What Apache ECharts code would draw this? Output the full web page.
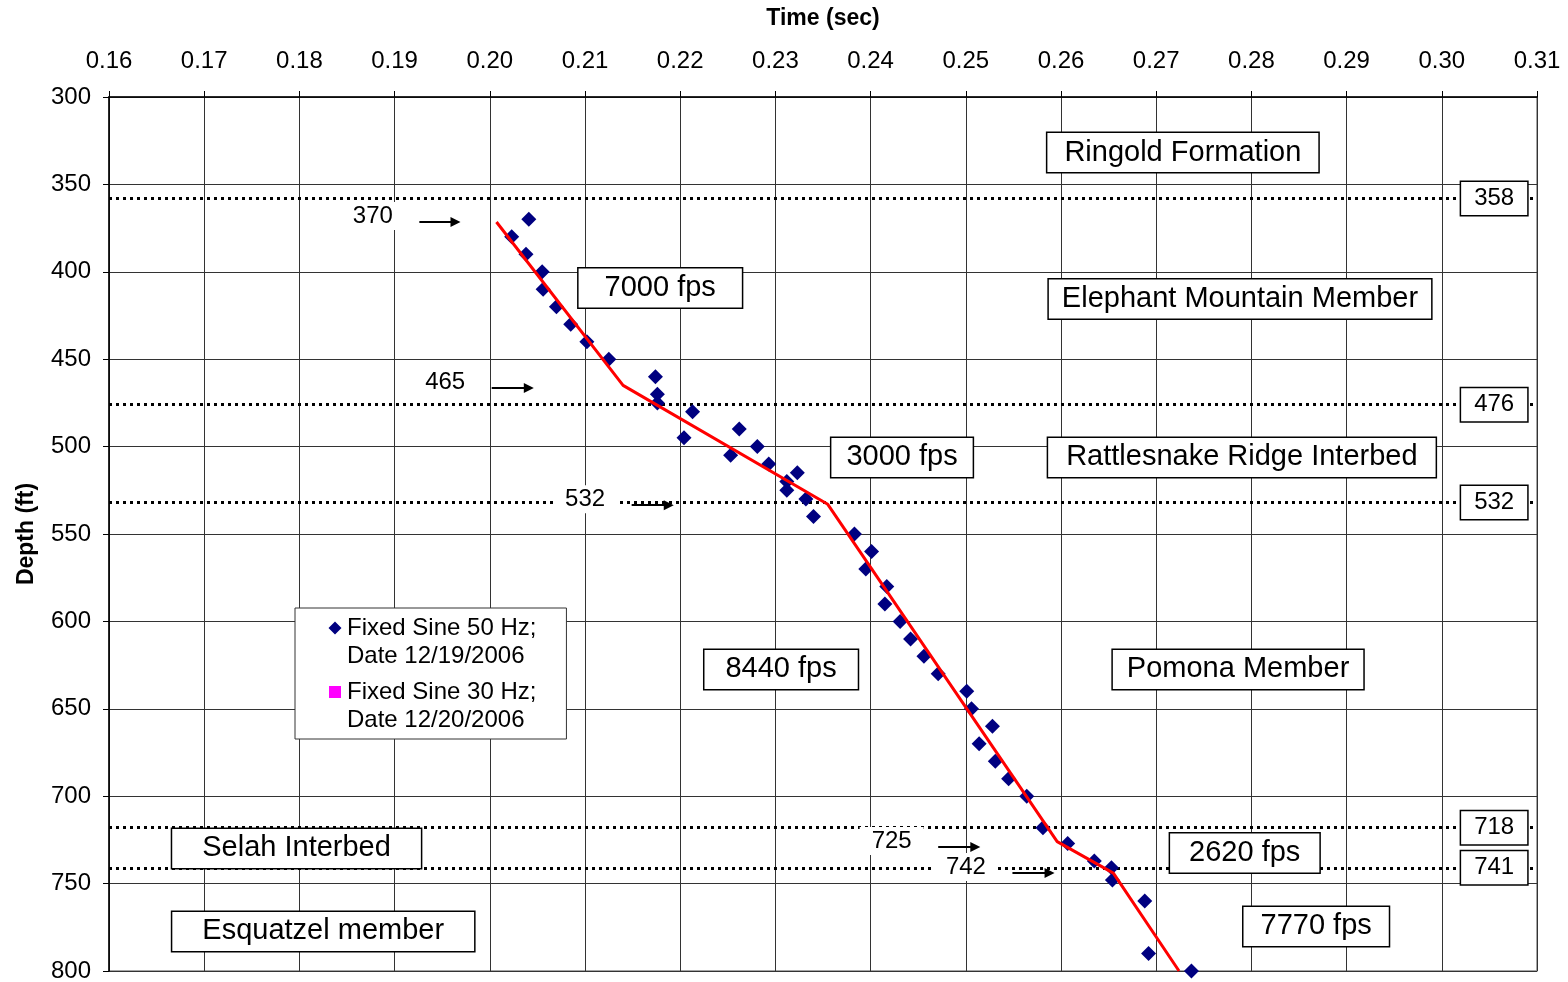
<!DOCTYPE html>
<html>
<head>
<meta charset="utf-8">
<title>Time vs Depth</title>
<script src="https://cdn.jsdelivr.net/npm/echarts@6/dist/echarts.min.js"></script>
<style>
  html, body { margin: 0; padding: 0; background: #fff; }
  #chart { width: 1568px; height: 982px; }
</style>
</head>
<body>
<div id="chart"></div>
<script>
// measured first-arrival times (sec) against depth (ft)
var timeSec = [0.2041, 0.2023, 0.2038, 0.2055, 0.2056, 0.2070, 0.2085, 0.2102, 0.2125,
  0.2174, 0.2176, 0.2176, 0.2213, 0.2262, 0.2204, 0.2281, 0.2253, 0.2293, 0.2323, 0.2312,
  0.2312, 0.2332, 0.2340, 0.2383, 0.2401, 0.2395, 0.2417, 0.2415, 0.2431, 0.2442, 0.2456,
  0.2471, 0.2501, 0.2506, 0.2528, 0.2514, 0.2531, 0.2545, 0.2564, 0.2581, 0.2607, 0.2635,
  0.2653, 0.2654, 0.2688, 0.2692, 0.2737];
var depthFt = [370, 380, 390, 400, 410, 420, 430, 440, 450,
  460, 470, 475, 480, 490, 495, 500, 505, 510, 515, 520,
  525, 530, 540, 550, 560, 570, 580, 590, 600, 610, 620,
  630, 640, 650, 660, 670, 680, 690, 700, 718, 727, 737,
  741, 748, 760, 790, 800];

// interval velocity fit (red line)
var fitTime = [0.2007, 0.2140, 0.2355, 0.2596, 0.2655, 0.2724];
var fitDepth = [371.5, 465, 533, 726, 744, 800];

// formation boundaries (dotted lines)
var boundaryDepth = [358, 476, 532, 718, 741];

// unit names and velocities
var unitText = ['Ringold Formation', 'Elephant Mountain Member', '7000 fps', '3000 fps',
  'Rattlesnake Ridge Interbed', '8440 fps', 'Pomona Member', 'Selah Interbed',
  'Esquatzel member', '2620 fps', '7770 fps'];
var unitTime = [0.2728, 0.2788, 0.2179, 0.2433, 0.2790, 0.2306, 0.2786, 0.1797, 0.1825, 0.2793, 0.2868];
var unitDepth = [331.8, 415.6, 409.3, 506.2, 506.2, 627.5, 627.5, 729.9, 777.4, 732.5, 774.5];

// break-point picks with arrows
var pickText = ['370', '465', '532', '725', '742'];
var pickDepth = [371.5, 466.5, 533.5, 729, 744];
var pickFrom = [0.1926, 0.2002, 0.2149, 0.2471, 0.2549];
var pickTo = [0.1964, 0.2041, 0.2188, 0.2510, 0.2588];

// text box side padding (layout only)
var unitPadX = [17, 13, 26, 15, 18, 21, 14, 30, 30, 19, 17];

var name50 = 'Fixed Sine 50 Hz; Date 12/19/2006';
var name30 = 'Fixed Sine 30 Hz; Date 12/20/2006';
var font = '"Liberation Sans", Arial, sans-serif';
var boxTime = 0.3055;

var points = timeSec.map(function (t, i) { return [t, depthFt[i]]; });
var fit = fitTime.map(function (t, i) { return [t, fitDepth[i]]; });

var chart = echarts.init(document.getElementById('chart'));

chart.setOption({
  animation: false,
  backgroundColor: '#fff',
  textStyle: { fontFamily: font, color: '#000' },
  grid: {
    left: 109, top: 97, width: 1428, height: 874,
    containLabel: false, outerBoundsMode: 'none',
    show: true, borderColor: '#888', borderWidth: 1.5, backgroundColor: '#fff'
  },
  legend: {
    left: 295, top: 608,
    orient: 'vertical',
    selectedMode: false,
    backgroundColor: '#fff',
    borderColor: '#333', borderWidth: 1,
    padding: [6, 30, 5, 33],
    itemGap: 8,
    itemWidth: 14, itemHeight: 56,
    formatter: function (n) { return n.replace('; ', ';\n'); },
    textStyle: { fontSize: 24, lineHeight: 28, color: '#000', fontFamily: font },
    data: [
      { name: name50, icon: 'path://M0,0L14,0Z M7,7.5L13.5,14L7,20.5L0.5,14Z M0,56L14,56Z' },
      { name: name30, icon: 'path://M0,0L14,0Z M1,8L13,8L13,20L1,20Z M0,56L14,56Z' }
    ]
  },
  xAxis: {
    type: 'value', position: 'top',
    min: 0.16, max: 0.31, interval: 0.01,
    name: 'Time (sec)', nameLocation: 'middle', nameGap: 67,
    nameTextStyle: { fontSize: 23, fontWeight: 'bold', color: '#000' },
    axisLine: { show: true, lineStyle: { color: '#000', width: 1.5 } },
    axisTick: { show: true, inside: false, length: 6, lineStyle: { color: '#000' } },
    axisLabel: { fontSize: 24, color: '#000', margin: 24,
      formatter: function (v) { return v.toFixed(2); } },
    splitLine: { show: true, lineStyle: { color: '#333', width: 1 } }
  },
  yAxis: {
    type: 'value', inverse: true,
    min: 300, max: 800, interval: 50,
    name: 'Depth (ft)', nameLocation: 'middle', nameGap: 71, nameRotate: 90,
    nameTextStyle: { fontSize: 23, fontWeight: 'bold', color: '#000' },
    axisLine: { show: true, lineStyle: { color: '#000', width: 1.5 } },
    axisTick: { show: true, inside: false, length: 6, lineStyle: { color: '#000' } },
    axisLabel: { fontSize: 24, color: '#000', margin: 18 },
    splitLine: { show: true, lineStyle: { color: '#333', width: 1 } }
  },
  series: [
    {
      // formation boundaries
      name: 'boundaries', type: 'line', data: [], z: 2, silent: true,
      markLine: {
        z: 2, silent: true, symbol: 'none',
        label: { show: false },
        lineStyle: { color: '#000', width: 3, type: [3, 4], opacity: 1 },
        data: boundaryDepth.map(function (d) { return { yAxis: d }; })
      }
    },
    {
      name: name50, type: 'scatter', z: 3,
      symbol: 'diamond', symbolSize: 15,
      itemStyle: { color: '#000080', opacity: 1 },
      data: points
    },
    {
      name: name30, type: 'scatter', z: 3,
      symbol: 'rect', symbolSize: 12,
      itemStyle: { color: '#ff00ff', opacity: 1 },
      data: []
    },
    {
      name: 'fit', type: 'line', z: 4, silent: true,
      symbol: 'none',
      lineStyle: { color: '#ff0000', width: 3 },
      data: fit
    },
    {
      // pick arrows and their labels
      name: 'picks', type: 'scatter', z: 6, silent: true,
      symbolSize: 1, itemStyle: { color: 'rgba(0,0,0,0)', opacity: 1 },
      label: {
        show: true, position: 'left', distance: 14, offset: [0, -6],
        formatter: '{b}', fontSize: 24, color: '#000', fontFamily: font,
        backgroundColor: '#fff', padding: [2, 12, 2, 12]
      },
      data: pickText.map(function (s, i) { return { name: s, value: [pickFrom[i], pickDepth[i]] }; }),
      markLine: {
        z: 5, silent: true,
        symbol: ['none', 'triangle'], symbolSize: 10,
        label: { show: false },
        itemStyle: { color: '#000', opacity: 1 },
        lineStyle: { color: '#000', width: 2, type: 'solid', opacity: 1 },
        data: pickText.map(function (s, i) {
          return [{ coord: [pickFrom[i], pickDepth[i]] }, { coord: [pickTo[i], pickDepth[i]] }];
        })
      }
    },
    {
      // unit names / velocities
      name: 'units', type: 'scatter', z: 6, silent: true,
      symbolSize: 1, itemStyle: { color: 'rgba(0,0,0,0)', opacity: 1 },
      label: {
        show: true, position: 'inside', formatter: '{b}',
        fontSize: 29, lineHeight: 33, color: '#000', fontFamily: font,
        backgroundColor: '#fff', borderColor: '#000', borderWidth: 1.5,
        padding: [3, 17, 3, 17]
      },
      data: unitText.map(function (s, i) {
        return {
          name: s, value: [unitTime[i], unitDepth[i]],
          label: { padding: [3, unitPadX[i], 3, unitPadX[i]] }
        };
      })
    },
    {
      // boundary depth boxes on the right
      name: 'boundaryLabels', type: 'scatter', z: 6, silent: true,
      symbolSize: 1, itemStyle: { color: 'rgba(0,0,0,0)', opacity: 1 },
      label: {
        show: true, position: 'inside', formatter: '{b}',
        fontSize: 24, lineHeight: 27, color: '#000', fontFamily: font,
        backgroundColor: '#fff', borderColor: '#000', borderWidth: 1.5,
        padding: [3, 13, 3, 13]
      },
      data: boundaryDepth.map(function (d) { return { name: String(d), value: [boxTime, d] }; })
    }
  ]
});
</script>
</body>
</html>
